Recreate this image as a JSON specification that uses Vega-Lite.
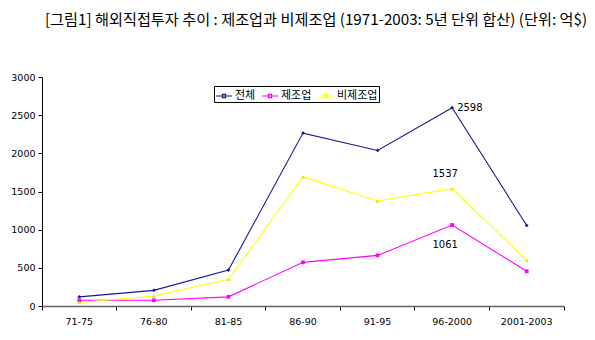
{
  "$schema": "https://vega.github.io/schema/vega-lite/v6.json",
  "width": 522,
  "height": 229,
  "autosize": {"type": "none"},
  "padding": {"left": 42, "top": 77, "right": 31, "bottom": 34},
  "background": "white",
  "config": {"view": {"stroke": null}, "font": "DejaVu Sans"},
  "title": {
    "text": "[그림1] 해외직접투자 추이 : 제조업과 비제조업 (1971-2003: 5년 단위 합산) (단위: 억$)",
    "font": "Noto Sans CJK KR",
    "fontSize": 15.2,
    "fontWeight": "normal",
    "color": "#000000",
    "anchor": "middle",
    "offset": 44,
    "dx": 13
  },
  "datasets": {
    "series": [
      {"period": "71-75", "series": "전체", "value": 120},
      {"period": "76-80", "series": "전체", "value": 205},
      {"period": "81-85", "series": "전체", "value": 470},
      {"period": "86-90", "series": "전체", "value": 2265},
      {"period": "91-95", "series": "전체", "value": 2038},
      {"period": "96-2000", "series": "전체", "value": 2598},
      {"period": "2001-2003", "series": "전체", "value": 1055},
      {"period": "71-75", "series": "제조업", "value": 75},
      {"period": "76-80", "series": "제조업", "value": 75},
      {"period": "81-85", "series": "제조업", "value": 120},
      {"period": "86-90", "series": "제조업", "value": 572},
      {"period": "91-95", "series": "제조업", "value": 663},
      {"period": "96-2000", "series": "제조업", "value": 1061},
      {"period": "2001-2003", "series": "제조업", "value": 455},
      {"period": "71-75", "series": "비제조업", "value": 45},
      {"period": "76-80", "series": "비제조업", "value": 130},
      {"period": "81-85", "series": "비제조업", "value": 350},
      {"period": "86-90", "series": "비제조업", "value": 1693},
      {"period": "91-95", "series": "비제조업", "value": 1375},
      {"period": "96-2000", "series": "비제조업", "value": 1537},
      {"period": "2001-2003", "series": "비제조업", "value": 600}
    ]
  },
  "data": {"name": "series"},
  "resolve": {"axis": {"x": "independent"}},
  "encoding": {
    "x": {
      "field": "period",
      "type": "ordinal",
      "sort": ["71-75", "76-80", "81-85", "86-90", "91-95", "96-2000", "2001-2003"],
      "scale": {"type": "band", "paddingInner": 0, "paddingOuter": 0}
    },
    "y": {
      "field": "value",
      "type": "quantitative",
      "scale": {"domain": [0, 3000], "nice": false, "zero": true},
      "axis": {
        "title": null,
        "values": [0, 500, 1000, 1500, 2000, 2500, 3000],
        "format": "d",
        "grid": false,
        "domainColor": "#000000",
        "tickColor": "#000000",
        "tickSize": 4,
        "labelFont": "DejaVu Sans",
        "labelFontSize": 9.5,
        "labelColor": "#000000",
        "labelPadding": 3
      }
    }
  },
  "layer": [
    {
      "mark": {"type": "line", "strokeWidth": 1.1},
      "encoding": {
        "x": {
          "field": "period",
          "type": "ordinal",
          "sort": ["71-75", "76-80", "81-85", "86-90", "91-95", "96-2000", "2001-2003"],
          "axis": {
            "orient": "bottom",
            "title": null,
            "labels": false,
            "bandPosition": 1,
            "tickExtra": true,
            "tickSize": 4,
            "tickColor": "#000000",
            "domainColor": "#666666",
            "domainWidth": 1.5
          }
        },
        "color": {
          "field": "series",
          "type": "nominal",
          "scale": {"domain": ["전체", "제조업", "비제조업"], "range": ["#1a1a8c", "#ff00ff", "#ffff00"]},
          "legend": {
            "title": null,
            "orient": "none",
            "legendX": 172,
            "legendY": 9,
            "direction": "horizontal",
            "symbolType": "M-1,0H1M-0.2,-0.2H0.2V0.2H-0.2Z",
            "symbolSize": 256,
            "symbolStrokeWidth": 1.2,
            "labelFont": "Noto Sans CJK KR",
            "labelFontSize": 11,
            "labelFontWeight": "normal",
            "labelColor": "#000000",
            "labelOffset": 2,
            "columnPadding": 3,
            "strokeColor": "#000000",
            "fillColor": "#ffffff",
            "padding": 1
          }
        }
      }
    },
    {
      "transform": [{"filter": "datum.series === '전체'"}],
      "mark": {"type": "point", "filled": true, "size": 14, "opacity": 1, "shape": "diamond", "color": "#1a1a8c"},
      "encoding": {
        "x": {
          "field": "period",
          "type": "ordinal",
          "sort": ["71-75", "76-80", "81-85", "86-90", "91-95", "96-2000", "2001-2003"],
          "axis": {
            "orient": "bottom",
            "title": null,
            "ticks": false,
            "domain": false,
            "labelAngle": 0,
            "labelFont": "DejaVu Sans",
            "labelFontSize": 9.5,
            "labelColor": "#000000",
            "labelPadding": 10
          }
        }
      }
    },
    {
      "transform": [{"filter": "datum.series === '제조업'"}],
      "mark": {"type": "point", "filled": true, "size": 14, "opacity": 1, "shape": "square", "color": "#ff00ff"},
      "encoding": {
        "x": {"field": "period", "type": "ordinal", "sort": ["71-75", "76-80", "81-85", "86-90", "91-95", "96-2000", "2001-2003"], "axis": null}
      }
    },
    {
      "transform": [{"filter": "datum.series === '비제조업'"}],
      "mark": {"type": "point", "filled": true, "size": 16, "opacity": 1, "shape": "triangle-up", "color": "#e6e600"},
      "encoding": {
        "x": {"field": "period", "type": "ordinal", "sort": ["71-75", "76-80", "81-85", "86-90", "91-95", "96-2000", "2001-2003"], "axis": null}
      }
    },
    {
      "transform": [{"filter": "datum.series === '전체' && datum.period === '96-2000'"}],
      "mark": {"type": "text", "align": "left", "dx": 5, "dy": 0, "font": "DejaVu Sans", "fontSize": 10, "color": "#000000"},
      "encoding": {
        "x": {"field": "period", "type": "ordinal", "sort": ["71-75", "76-80", "81-85", "86-90", "91-95", "96-2000", "2001-2003"], "axis": null},
        "text": {"field": "value", "type": "quantitative"}
      }
    },
    {
      "transform": [{"filter": "datum.series === '비제조업' && datum.period === '96-2000'"}],
      "mark": {"type": "text", "align": "center", "dx": -7, "dy": -15, "font": "DejaVu Sans", "fontSize": 10, "color": "#000000"},
      "encoding": {
        "x": {"field": "period", "type": "ordinal", "sort": ["71-75", "76-80", "81-85", "86-90", "91-95", "96-2000", "2001-2003"], "axis": null},
        "text": {"field": "value", "type": "quantitative"}
      }
    },
    {
      "transform": [{"filter": "datum.series === '제조업' && datum.period === '96-2000'"}],
      "mark": {"type": "text", "align": "center", "dx": -7, "dy": 20, "font": "DejaVu Sans", "fontSize": 10, "color": "#000000"},
      "encoding": {
        "x": {"field": "period", "type": "ordinal", "sort": ["71-75", "76-80", "81-85", "86-90", "91-95", "96-2000", "2001-2003"], "axis": null},
        "text": {"field": "value", "type": "quantitative"}
      }
    }
  ]
}
